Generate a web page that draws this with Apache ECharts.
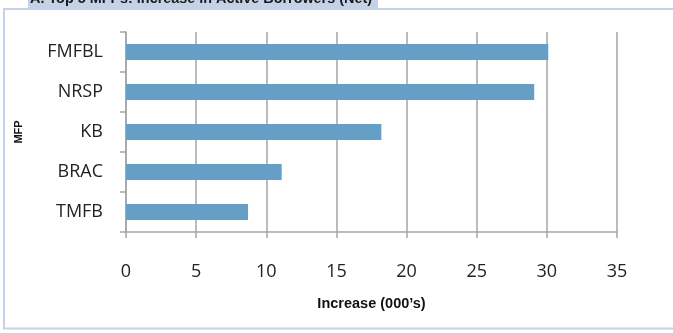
<!DOCTYPE html>
<html>
<head>
<meta charset="utf-8">
<script src="https://cdn.jsdelivr.net/npm/echarts@6/dist/echarts.min.js"></script>
<style>
  html, body { margin: 0; padding: 0; background: #fff; }
  #chart { width: 673px; height: 333px; }
</style>
</head>
<body>
<div id="chart"></div>
<script>
// data
const categories = ['FMFBL', 'NRSP', 'KB', 'BRAC', 'TMFB'];
const increase = [30.1, 29.1, 18.2, 11.1, 8.7];
const xTicks = { min: 0, max: 35, interval: 5 };

const myChart = echarts.init(document.getElementById('chart'));
const gridColor = '#a5a5a8';

const option = {
  animation: false,
  backgroundColor: '#fff',
  graphic: [
    // outer frame
    { type: 'rect', shape: { x: 4, y: 9, width: 700, height: 319.5 }, style: { fill: 'none', stroke: '#c4d2e8', lineWidth: 2 } },
    // title tab
    { type: 'rect', shape: { x: 28, y: 0, width: 350, height: 8.5 }, style: { fill: '#c4d2e8' } }
  ],
  title: {
    text: 'A. Top 5 MFPs: Increase in Active Borrowers (Net)',
    left: 30,
    top: -8,
    padding: 0,
    textStyle: { fontFamily: 'Liberation Sans', fontWeight: 'bold', fontSize: 14.4, color: '#1a1a1a' }
  },
  grid: { left: 126, right: 56, top: 32, bottom: 101 },
  xAxis: {
    type: 'value',
    min: xTicks.min,
    max: xTicks.max,
    interval: xTicks.interval,
    name: 'Increase (000\u2019s)',
    nameLocation: 'middle',
    nameGap: 64,
    nameTextStyle: { fontFamily: 'Liberation Sans', fontWeight: 'bold', fontSize: 14.5, color: '#111' },
    axisLine: { show: true, lineStyle: { color: gridColor, width: 1.5 } },
    axisTick: { show: true, length: 6, lineStyle: { color: gridColor, width: 1.5 } },
    axisLabel: { margin: 31, fontFamily: 'Open Sans', fontSize: 18, color: '#222' },
    splitLine: { show: true, lineStyle: { color: gridColor, width: 1.5 } }
  },
  yAxis: {
    type: 'category',
    data: categories,
    inverse: true,
    name: 'MFP',
    nameLocation: 'middle',
    nameGap: 102,
    nameRotate: 90,
    nameTextStyle: { fontFamily: 'Liberation Sans', fontWeight: 'bold', fontSize: 11, color: '#111' },
    axisLine: { show: true, lineStyle: { color: gridColor, width: 1.5 } },
    axisTick: { show: true, length: 6, lineStyle: { color: gridColor, width: 1.5 } },
    axisLabel: { margin: 23, fontFamily: 'Open Sans', fontSize: 18, color: '#222' },
    splitLine: { show: false }
  },
  series: [{
    type: 'bar',
    data: increase,
    barWidth: 16,
    itemStyle: { color: '#659fc6' }
  }]
};

myChart.setOption(option);
</script>
</body>
</html>
